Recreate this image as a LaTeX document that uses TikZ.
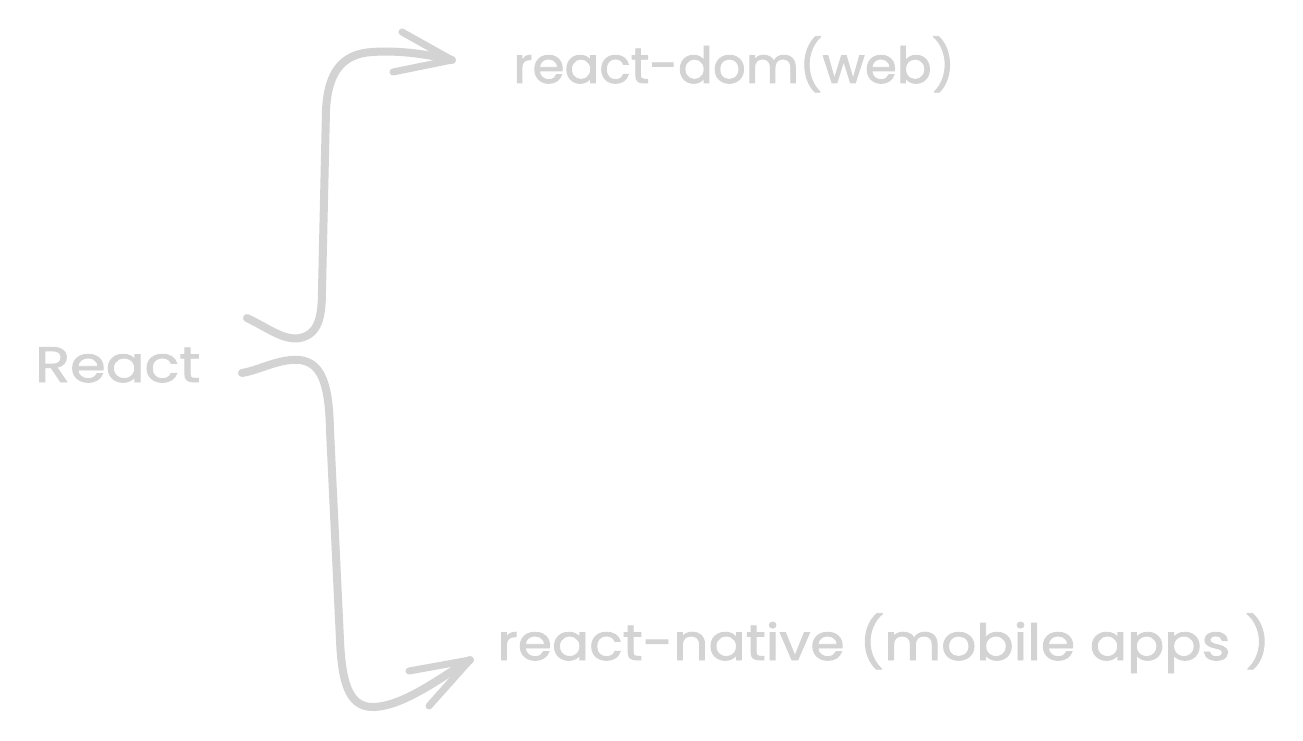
\documentclass[tikz,border=0pt]{standalone}
\usepackage{fontspec}
\newfontfamily\handfont[FakeBold=1.6]{Poppins}
\usepackage{graphicx}
\definecolor{sk}{HTML}{D3D3D3}
\tikzset{
  stroke/.style={draw=sk, line width=8pt, line cap=round, line join=round},
  lbl/.style={inner sep=0pt, anchor=base west, text=sk, font=\handfont\fontsize{50}{60}\selectfont},
}
\begin{document}
\begin{tikzpicture}[x=1pt, y=-1pt]
\useasboundingbox (0,0) rectangle (1303,741);
\node[lbl] (react) at (35,382) {\resizebox{165pt}{\height}{React}};
\node[lbl] (dom) at (513,83) {\resizebox{442pt}{\height}{react-dom(web)}};
\node[lbl] (native) at (497,660) {\resizebox{773pt}{\height}{react-native (mobile apps )}};
% upper connector
\coordinate (s1) at (247,318);
\coordinate (t1) at (452,60);
\coordinate (h1a) at (402,32);
\coordinate (h1b) at (393,72);
\draw[stroke] (s1) .. controls (268,328) and (284,341) .. (300,338)
  .. controls (319,334) and (322,316) .. (322,290) -- (326,110)
  .. controls (328,72) and (342,54) .. (372,52)
  .. controls (402,50) and (430,55) .. (t1);
\draw[stroke, line width=7pt] (h1a) -- (t1) -- (h1b);
% lower connector
\coordinate (s2) at (242,373);
\coordinate (t2) at (470,660);
\coordinate (h2a) at (409,671);
\coordinate (h2b) at (429,706);
\draw[stroke] (s2) .. controls (260,370) and (280,358) .. (300,360)
  .. controls (322,363) and (329,385) .. (330,430) -- (340,640)
  .. controls (342,690) and (352,708) .. (375,707)
  .. controls (405,705) and (440,678) .. (t2);
\draw[stroke, line width=7pt] (h2a) -- (t2) -- (h2b);
\end{tikzpicture}
\end{document}
